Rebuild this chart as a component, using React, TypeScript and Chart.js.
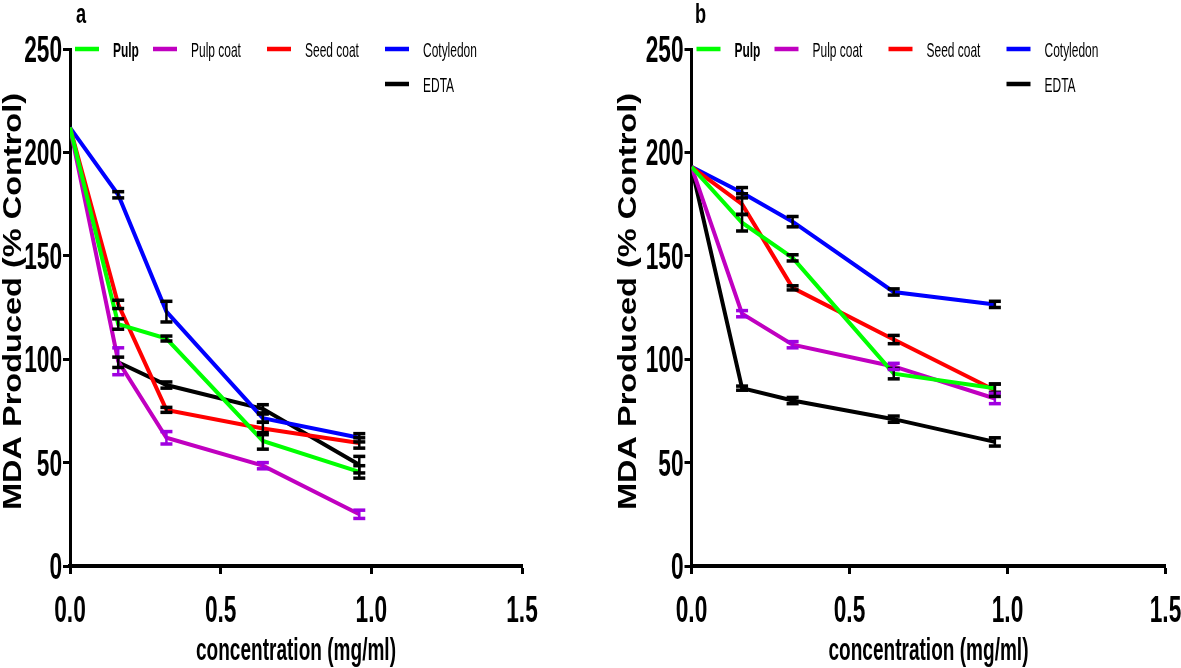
import React, { useEffect, useRef } from "react";
import { Chart, registerables } from "chart.js";

Chart.register(...registerables);

// ---------- data ----------
const xValues = [0, 0.16, 0.32, 0.64, 0.96];
const seriesNames = ["Pulp", "Pulp coat", "Seed coat", "Cotyledon", "EDTA"];
const seriesColors = ["#00ff00", "#c000c0", "#ff0000", "#0000ff", "#000000"];
const errorColors = ["#000000", "#a000e0", "#000000", "#000000", "#000000"];

const yMin = 0;
const yMax = 250;
const yStep = 50;
const xMin = 0;
const xMax = 1.5;
const xStep = 0.5;

const xTitle = "concentration (mg/ml)";
const yTitle = "MDA Produced (% Control)";

// Panel a
const aPulp = [212, 117, 110, 60.5, 45.5];
const aPulpErr = [0, 2.5, 1.2, 4, 3];
const aPulpCoat = [212, 99, 62, 48.5, 25];
const aPulpCoatErr = [0, 6.5, 3, 1.5, 2];
const aSeedCoat = [212, 126.5, 75.5, 66.5, 59.5];
const aSeedCoatErr = [0, 2, 1.2, 3, 2.5];
const aCotyledon = [212, 179.5, 123, 71.5, 62];
const aCotyledonErr = [0, 1.5, 5, 2, 2];
const aEdta = [null, 98.5, 87.5, 76, 49];
const aEdtaErr = [0, 2.5, 1.5, 2, 4];

// Panel b
const bPulp = [193, 166, 149, 93, 86];
const bPulpErr = [0, 4, 1.5, 2.5, 2];
const bPulpCoat = [193, 122, 107, 96.5, 81];
const bPulpCoatErr = [0, 1.5, 1.5, 1.5, 2.5];
const bSeedCoat = [193, 175, 134.5, 109.5, 85];
const bSeedCoatErr = [0, 5, 1, 2, 3];
const bCotyledon = [193, 180.5, 166.5, 132.5, 126.5];
const bCotyledonErr = [0, 2.5, 2.5, 1.5, 1.5];
const bEdta = [193, 86, 80, 71, 60];
const bEdtaErr = [0, 1, 1.5, 1.5, 2];

// ---------- drawing helpers ----------
const FONT = '"Liberation Sans", Arial, sans-serif';

function drawText(ctx: CanvasRenderingContext2D, text: string, x: number, y: number, opts: any) {
  const { size, bold = false, align = "left", sx = 1, targetW = 0, rotate = 0 } = opts;
  ctx.save();
  ctx.font = `${bold ? "bold " : ""}${size}px ${FONT}`;
  ctx.fillStyle = "#000";
  ctx.textBaseline = "alphabetic";
  ctx.textAlign = align;
  let scaleX = sx;
  if (targetW) scaleX = targetW / ctx.measureText(text).width;
  ctx.translate(x, y);
  if (rotate) ctx.rotate(rotate);
  ctx.scale(scaleX, 1);
  ctx.fillText(text, 0, 0);
  ctx.restore();
}

const errorBarPlugin = {
  id: "errorBars",
  afterDatasetsDraw(chart: any) {
    const ctx = chart.ctx;
    const yScale = chart.scales.y;
    chart.data.datasets.forEach((ds: any, i: number) => {
      const meta = chart.getDatasetMeta(i);
      meta.data.forEach((pt: any, j: number) => {
        const e = ds.errors[j];
        const v = ds.data[j].y;
        if (!e || v === null || v === undefined) return;
        const yTop = yScale.getPixelForValue(v + e);
        const yBot = yScale.getPixelForValue(v - e);
        const x = pt.x;
        ctx.save();
        ctx.fillStyle = ds.errorColor;
        ctx.fillRect(x - 1.25, yTop, 2.5, yBot - yTop);
        ctx.fillRect(x - 6, yTop - 1.75, 12, 3.5);
        ctx.fillRect(x - 6, yBot - 1.75, 12, 3.5);
        ctx.restore();
      });
    });
  },
};

const textPlugin = {
  id: "texts",
  afterDraw(chart: any) {
    const ctx = chart.ctx;
    const cfg = chart.options.plugins.texts;
    const area = chart.chartArea;
    const ys = chart.scales.y;
    const xs = chart.scales.x;
    // y tick labels
    ys.ticks.forEach((t: any) => {
      const py = ys.getPixelForValue(t.value);
      drawText(ctx, String(t.value), area.left - 8, py + 13, { size: 36, bold: true, align: "right", sx: 0.63 });
    });
    // x tick labels
    xs.ticks.forEach((t: any) => {
      const px = xs.getPixelForValue(t.value);
      drawText(ctx, Number(t.value).toFixed(1), px, 622, { size: 36, bold: true, align: "center", sx: 0.63 });
    });
    // x title
    drawText(ctx, xTitle, (area.left + area.right) / 2, 660, { size: 32, bold: true, align: "center", targetW: 200 });
    // y title
    drawText(ctx, yTitle, area.left + cfg.yTitleOffset, (area.top + area.bottom) / 2 - 6, {
      size: 26.5,
      bold: true,
      align: "center",
      targetW: 417,
      rotate: -Math.PI / 2,
    });
    // panel letter
    drawText(ctx, cfg.letter, area.left + cfg.letterOffset, 23, { size: 28, bold: true, align: "left", sx: 0.65 });
    // legend
    const slots = [
      { dx: 5, y: 49 },
      { dx: 83, y: 49 },
      { dx: 197, y: 49 },
      { dx: 315, y: 49 },
      { dx: 315, y: 84 },
    ];
    chart.data.datasets.forEach((ds: any, i: number) => {
      const s = slots[i];
      const lx = area.left + s.dx;
      ctx.save();
      ctx.strokeStyle = ds.borderColor;
      ctx.lineWidth = 4.5;
      ctx.beginPath();
      ctx.moveTo(lx, s.y);
      ctx.lineTo(lx + 24, s.y);
      ctx.stroke();
      ctx.restore();
      drawText(ctx, ds.label, lx + 38, s.y + 7.5, { size: 21, bold: i === 0, align: "left", sx: 0.57 });
    });
  },
};

function buildDatasets(values: any[], errors: number[][]) {
  return values.map((vals: any[], i: number) => ({
    label: seriesNames[i],
    data: xValues.map((x, j) => ({ x, y: vals[j] })),
    errors: errors[i],
    errorColor: errorColors[i],
    borderColor: seriesColors[i],
    backgroundColor: seriesColors[i],
    borderWidth: 4,
    pointRadius: 0,
    tension: 0,
    fill: false,
  }));
}

function Panel(props: any) {
  const ref = useRef<HTMLCanvasElement | null>(null);
  const { values, errors, letter, left, width, padRight, yWidth, yTitleOffset, letterOffset } = props;
  useEffect(() => {
    if (!ref.current) return;
    const chart = new Chart(ref.current, {
      type: "line",
      data: { datasets: buildDatasets(values, errors) as any },
      options: {
        responsive: false,
        animation: false,
        devicePixelRatio: 1,
        layout: { padding: { left: 0, right: padRight, top: 49, bottom: 0 } },
        plugins: {
          legend: { display: false },
          tooltip: { enabled: false },
          texts: { letter, yTitleOffset, letterOffset },
        } as any,
        scales: {
          x: {
            type: "linear",
            min: xMin,
            max: xMax,
            ticks: { stepSize: xStep, display: false },
            grid: { display: true, drawOnChartArea: false, drawTicks: true, tickLength: 8, tickWidth: 3, tickColor: "#000" },
            border: { display: true, color: "#000", width: 4 },
            afterFit: (s: any) => {
              s.height = 102;
            },
          },
          y: {
            type: "linear",
            min: yMin,
            max: yMax,
            ticks: { stepSize: yStep, display: false },
            grid: { display: true, drawOnChartArea: false, drawTicks: true, tickLength: 7, tickWidth: 3, tickColor: "#000" },
            border: { display: true, color: "#000", width: 3 },
            afterFit: (s: any) => {
              s.width = yWidth;
            },
          },
        } as any,
      },
      plugins: [errorBarPlugin, textPlugin],
    });
    return () => chart.destroy();
  }, []);
  return (
    <canvas
      ref={ref}
      width={width}
      height={668}
      style={{ position: "absolute", left, top: 0, width, height: 668 }}
    />
  );
}

export default function App() {
  return (
    <div style={{ position: "absolute", left: 0, top: 0, width: 1181, height: 668, background: "#fff", overflow: "hidden" }}>
      <Panel
        values={[aPulp, aPulpCoat, aSeedCoat, aCotyledon, aEdta]}
        errors={[aPulpErr, aPulpCoatErr, aSeedCoatErr, aCotyledonErr, aEdtaErr]}
        letter="a"
        left={0}
        width={590}
        padRight={68}
        yWidth={70}
        yTitleOffset={-49}
        letterOffset={6}
      />
      <Panel
        values={[bPulp, bPulpCoat, bSeedCoat, bCotyledon, bEdta]}
        errors={[bPulpErr, bPulpCoatErr, bSeedCoatErr, bCotyledonErr, bEdtaErr]}
        letter="b"
        left={590}
        width={591}
        padRight={15.5}
        yWidth={101.5}
        yTitleOffset={-55.5}
        letterOffset={3.5}
      />
    </div>
  );
}
